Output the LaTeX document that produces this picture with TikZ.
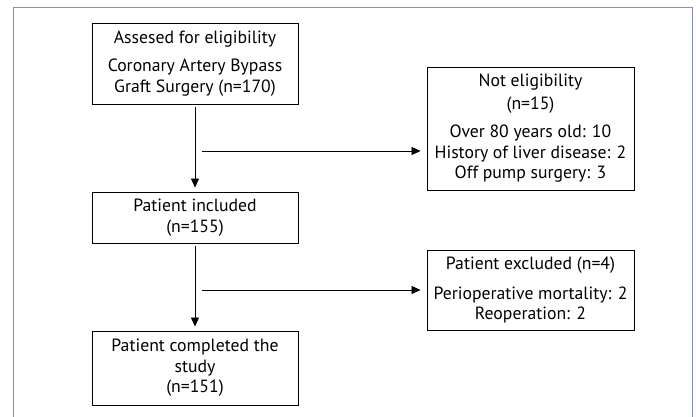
\documentclass[tikz,border=0pt]{standalone}
\usepackage{fontspec}
\setmainfont{PT Sans}
\usetikzlibrary{arrows.meta}
\definecolor{framecol}{RGB}{128,142,196}
\begin{document}
\begin{tikzpicture}[x=1pt,y=-1pt,
  box/.style={draw=black,line width=0.9pt,align=center,inner sep=0pt,font=\fontsize{17.7}{20.5}\selectfont},
  arr/.style={line width=0.8pt,-{Triangle[length=9pt,width=8pt]}}]
\useasboundingbox (0,0) rectangle (696,416);
\draw[framecol,line width=1pt] (13,422) -- (13,7) -- (692,7) -- (692,422);
\node[box,minimum width=206pt,minimum height=81pt] (b1) at (195,63.5)
  {Assesed for eligibility\\[7.5pt]Coronary Artery Bypass\\Graft Surgery (n=170)};
\node[box,minimum width=207pt,minimum height=123pt] (b3) at (530.5,128.5)
  {Not eligibility\\[2.5pt](n=15)\\[7.5pt]Over 80 years old: 10\\History of liver disease: 2\\Off pump surgery: 3};
\node[box,minimum width=206pt,minimum height=51pt] (b2) at (195,217.5)
  {Patient included\\(n=155)};
\node[box,minimum width=207pt,minimum height=80pt] (b4) at (530.5,290)
  {Patient excluded (n=4)\\[9pt]Perioperative mortality: 2\\Reoperation: 2};
\node[box,minimum width=206pt,minimum height=74pt] (b5) at (195,368)
  {Patient completed the\\study\\(n=151)};
\coordinate (s1) at (202,151);
\coordinate (s2) at (202,290);
\draw[arr,shorten <=3pt,shorten >=4pt] (b1.south) -- (b2.north);
\draw[arr,shorten <=3pt,shorten >=4pt] (b2.south) -- (b5.north);
\draw[arr,shorten >=6pt] (s1) -- (b3.west |- s1);
\draw[arr,shorten >=6pt] (s2) -- (b4.west |- s2);
\end{tikzpicture}
\end{document}
